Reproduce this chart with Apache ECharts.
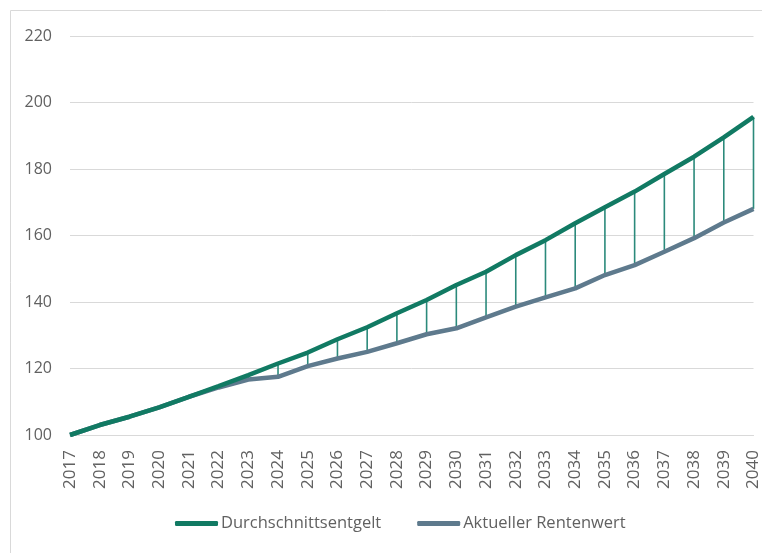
<!doctype html>
<html>
	<head>
		<meta charset="UTF-8">
		<title>Durchschnittsentgelt und Rentenwert</title>
		<style>
			html, body {
				margin: 0;
				padding: 0;
				background: #ffffff;
			}
			#chart {
				width: 762px;
				height: 553px;
			}
		</style>
	</head>
	<body>
		<div id="chart"></div>
		<script src="https://cdn.jsdelivr.net/npm/echarts@6/dist/echarts.min.js"></script>
		<script type="text/javascript">
			// Jahre (x-Achse)
			var years = ['2017', '2018', '2019', '2020', '2021', '2022', '2023', '2024', '2025', '2026', '2027', '2028',
				'2029', '2030', '2031', '2032', '2033', '2034', '2035', '2036', '2037', '2038', '2039', '2040'];
			// Index 2017 = 100
			var entgelt = [100, 103, 105.5, 108.3, 111.5, 114.7, 118, 121.5, 124.8, 128.8, 132.4, 136.6,
				140.6, 145.1, 149.1, 154.1, 158.6, 163.7, 168.5, 173.2, 178.5, 183.7, 189.5, 195.7];
			var rentenwert = [100, 103, 105.5, 108.3, 111.5, 114.3, 116.7, 117.5, 120.7, 123, 125, 127.6,
				130.3, 132.1, 135.4, 138.6, 141.4, 144.1, 148.1, 151.1, 155.1, 159.2, 163.9, 168];
			var yTicks = [100, 120, 140, 160, 180, 200, 220];

			var green = '#117a63';
			var grey = '#5e7a8d';
			var dropColor = '#2b8a7b';
			var labelColor = '#616161';

			// Verbindungslinien zwischen beiden Reihen
			var gapData = [];
			for (var i = 0; i < years.length; i++) {
				gapData.push([i, entgelt[i], rentenwert[i]]);
			}

			var chart = echarts.init(document.getElementById('chart'));
			chart.setOption({
				animation: false,
				graphic: [{
					type: 'rect',
					shape: { x: 10.5, y: 10.5, width: 800, height: 600 },
					style: { fill: 'none', stroke: '#d9d9d9', lineWidth: 1 },
					silent: true,
					z: -10
				}],
				grid: {
					left: 70,
					right: 8,
					top: 36,
					bottom: 118
				},
				legend: {
					bottom: 16,
					left: 170,
					itemWidth: 43,
					itemHeight: 5,
					itemGap: 36,
					icon: 'roundRect',
					data: ['Durchschnittsentgelt', 'Aktueller Rentenwert'],
					textStyle: {
						fontFamily: 'Open Sans',
						fontSize: 16.5,
						color: labelColor,
						padding: [0, 0, 0, -2]
					}
				},
				xAxis: {
					type: 'category',
					boundaryGap: false,
					data: years,
					axisLine: { lineStyle: { color: '#d9d9d9', width: 1 } },
					axisTick: { show: false },
					axisLabel: {
						rotate: 90,
						margin: 15,
						fontFamily: 'Open Sans',
						fontSize: 17,
						color: labelColor
					},
					splitLine: { show: false }
				},
				yAxis: {
					type: 'value',
					min: yTicks[0],
					max: yTicks[yTicks.length - 1],
					interval: 20,
					axisLine: { show: false },
					axisTick: { show: false },
					axisLabel: {
						margin: 18,
						fontFamily: 'Open Sans',
						fontSize: 16,
						color: labelColor
					},
					splitLine: { lineStyle: { color: '#d9d9d9', width: 1 } }
				},
				series: [{
					name: 'Verbindung',
					type: 'custom',
					data: gapData,
					z: 1,
					renderItem: function(params, api) {
						var top = api.coord([api.value(0), api.value(1)]);
						var bottom = api.coord([api.value(0), api.value(2)]);
						return {
							type: 'line',
							shape: { x1: top[0], y1: top[1], x2: bottom[0], y2: bottom[1] },
							style: { stroke: dropColor, lineWidth: 1.6 }
						};
					}
				}, {
					name: 'Aktueller Rentenwert',
					type: 'line',
					data: rentenwert,
					symbol: 'none',
					z: 2,
					itemStyle: { color: grey },
					lineStyle: { color: grey, width: 4.5 }
				}, {
					name: 'Durchschnittsentgelt',
					type: 'line',
					data: entgelt,
					symbol: 'none',
					z: 3,
					itemStyle: { color: green },
					lineStyle: { color: green, width: 4.5 }
				}]
			});
		</script>
	</body>
</html>
